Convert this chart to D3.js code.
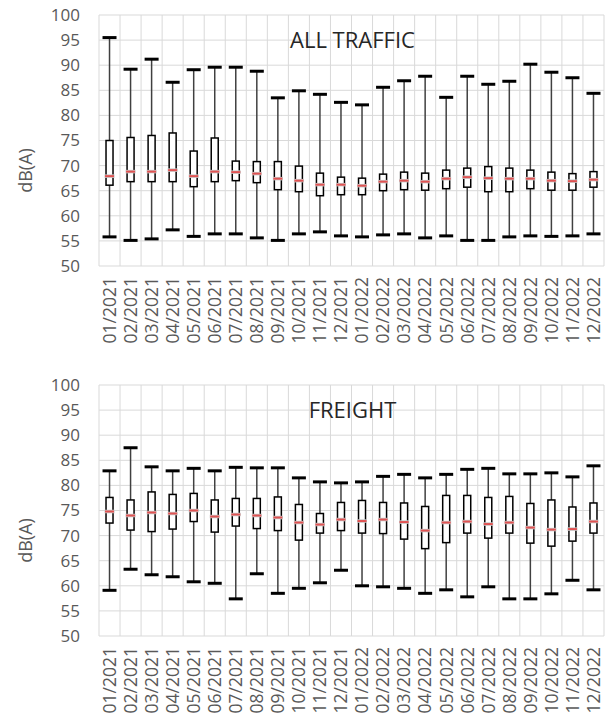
<!DOCTYPE html>
<html lang="en">
<head>
<meta charset="utf-8">
<title>Monthly noise levels</title>
<script src="https://cdn.jsdelivr.net/npm/d3@7"></script>
<style>
  body { margin: 0; background: #fff; }
  svg { display: block; font-family: "Open Sans", sans-serif; }
</style>
</head>
<body>
<script>
// month labels
var months = ["01/2021","02/2021","03/2021","04/2021","05/2021","06/2021","07/2021","08/2021","09/2021","10/2021","11/2021","12/2021",
              "01/2022","02/2022","03/2022","04/2022","05/2022","06/2022","07/2022","08/2022","09/2022","10/2022","11/2022","12/2022"];

var yTicks = [50, 55, 60, 65, 70, 75, 80, 85, 90, 95, 100];

// ALL TRAFFIC
var allMax = [95.5, 89.2, 91.2, 86.6, 89.1, 89.6, 89.6, 88.8, 83.5, 84.9, 84.2, 82.6, 82.1, 85.6, 86.9, 87.8, 83.6, 87.8, 86.2, 86.8, 90.2, 88.6, 87.5, 84.4];
var allQ3  = [75.0, 75.6, 76.0, 76.5, 72.9, 75.5, 70.9, 70.8, 70.8, 69.9, 68.5, 67.7, 67.5, 68.3, 68.7, 68.5, 69.1, 69.5, 69.8, 69.5, 69.1, 68.7, 68.4, 68.8];
var allMed = [67.9, 68.8, 68.8, 69.1, 67.9, 68.8, 68.7, 68.4, 67.4, 67.0, 66.2, 66.2, 66.0, 66.8, 67.0, 66.8, 67.4, 67.7, 67.5, 67.4, 67.4, 67.0, 66.9, 67.2];
var allQ1  = [66.1, 66.8, 66.8, 66.8, 65.8, 66.8, 67.0, 66.6, 65.2, 64.8, 64.0, 64.2, 64.2, 65.0, 65.2, 65.1, 65.4, 65.7, 64.8, 64.8, 65.4, 65.1, 65.1, 65.7];
var allMin = [55.8, 55.1, 55.4, 57.2, 55.9, 56.4, 56.4, 55.6, 55.1, 56.4, 56.8, 56.0, 55.8, 56.2, 56.4, 55.6, 56.0, 55.1, 55.1, 55.8, 56.0, 55.9, 56.0, 56.4];

// FREIGHT
var frMax = [82.9, 87.5, 83.7, 82.9, 83.4, 82.9, 83.6, 83.5, 83.5, 81.5, 80.7, 80.5, 80.7, 81.8, 82.2, 81.5, 82.2, 83.2, 83.4, 82.3, 82.3, 82.5, 81.7, 83.9];
var frQ3  = [77.6, 77.1, 78.7, 78.2, 78.4, 77.1, 77.4, 77.4, 77.7, 76.2, 74.4, 76.6, 77.0, 76.6, 76.5, 75.8, 78.0, 78.0, 77.6, 77.8, 76.4, 77.1, 75.7, 76.5];
var frMed = [74.8, 74.0, 74.6, 74.4, 75.0, 73.8, 74.2, 74.0, 73.6, 72.6, 72.2, 73.2, 72.9, 73.2, 72.7, 71.0, 72.6, 72.8, 72.3, 72.6, 71.6, 71.2, 71.3, 72.8];
var frQ1  = [72.5, 71.1, 70.8, 71.3, 72.8, 70.7, 71.9, 71.4, 71.0, 69.1, 70.5, 71.0, 70.5, 70.4, 69.3, 67.4, 68.6, 70.5, 69.5, 70.5, 68.5, 67.9, 68.9, 70.5];
var frMin = [59.1, 63.3, 62.2, 61.8, 60.8, 60.5, 57.4, 62.4, 58.5, 59.5, 60.6, 63.1, 60.0, 59.8, 59.5, 58.5, 59.2, 57.8, 59.8, 57.4, 57.4, 58.4, 61.1, 59.2];

var W = 610, H = 718;
var left = 99, right = 604;
var plotH = 251;

var svg = d3.select("body").append("svg")
    .attr("width", W)
    .attr("height", H);

var x = d3.scaleBand()
    .domain(months)
    .range([left, right])
    .padding(0);

function drawPanel(top, title, mins, q1s, meds, q3s, maxs) {
  var y = d3.scaleLinear()
      .domain([50, 100])
      .range([top + plotH, top]);

  var rows = months.map(function(m, i) {
    return {m: m, min: mins[i], q1: q1s[i], med: meds[i], q3: q3s[i], max: maxs[i]};
  });

  var g = svg.append("g");

  // horizontal grid
  g.append("g")
    .selectAll("line")
    .data(yTicks)
    .enter().append("line")
    .attr("x1", left).attr("x2", right)
    .attr("y1", function(d) { return y(d); })
    .attr("y2", function(d) { return y(d); })
    .attr("stroke", "#d9d9d9")
    .attr("stroke-width", 1);

  // vertical grid at band edges
  var edges = months.map(function(m) { return x(m); }).concat([right]);
  g.append("g")
    .selectAll("line")
    .data(edges)
    .enter().append("line")
    .attr("x1", function(d) { return d; })
    .attr("x2", function(d) { return d; })
    .attr("y1", top).attr("y2", top + plotH)
    .attr("stroke", "#d9d9d9")
    .attr("stroke-width", 1);

  // y axis labels
  var yAxis = d3.axisLeft(y).tickValues(yTicks).tickSize(0).tickPadding(0);
  var ya = g.append("g")
    .attr("transform", "translate(" + (left - 19) + ",0)")
    .call(yAxis);
  ya.select(".domain").remove();
  ya.selectAll("text")
    .attr("fill", "#595959")
    .style("font-size", "17px")
    .style("font-family", "Open Sans, sans-serif");

  // x axis labels
  var xAxis = d3.axisBottom(x).tickSize(0).tickPadding(0);
  var xa = g.append("g")
    .attr("transform", "translate(0," + (top + plotH) + ")")
    .call(xAxis);
  xa.select(".domain").remove();
  xa.selectAll("text")
    .attr("transform", "rotate(-90)")
    .attr("x", -11)
    .attr("y", 0)
    .attr("dy", "0.36em")
    .attr("text-anchor", "end")
    .attr("fill", "#595959")
    .style("font-size", "17.5px")
    .style("font-family", "Open Sans, sans-serif");

  // axis title
  g.append("text")
    .attr("transform", "translate(26," + (top + plotH / 2 + 30) + ") rotate(-90)")
    .attr("text-anchor", "middle")
    .attr("dy", "0.35em")
    .attr("fill", "#595959")
    .style("font-size", "18px")
    .text("dB(A)");

  // chart title
  g.append("text")
    .attr("x", (left + right) / 2 + 1)
    .attr("y", top + 33)
    .attr("text-anchor", "middle")
    .attr("fill", "#262626")
    .style("font-size", "22px")
    .text(title);

  var cx = function(d) { return x(d.m) + x.bandwidth() / 2; };
  var boxes = g.append("g").selectAll("g")
    .data(rows)
    .enter().append("g");

  boxes.append("line")
    .attr("x1", cx).attr("x2", cx)
    .attr("y1", function(d) { return y(d.max); })
    .attr("y2", function(d) { return y(d.min); })
    .attr("stroke", "#404040")
    .attr("stroke-width", 1.5);

  boxes.append("line")
    .attr("x1", function(d) { return cx(d) - 7; })
    .attr("x2", function(d) { return cx(d) + 7; })
    .attr("y1", function(d) { return y(d.max); })
    .attr("y2", function(d) { return y(d.max); })
    .attr("stroke", "#000")
    .attr("stroke-width", 3);

  boxes.append("line")
    .attr("x1", function(d) { return cx(d) - 7; })
    .attr("x2", function(d) { return cx(d) + 7; })
    .attr("y1", function(d) { return y(d.min); })
    .attr("y2", function(d) { return y(d.min); })
    .attr("stroke", "#000")
    .attr("stroke-width", 3);

  boxes.append("rect")
    .attr("x", function(d) { return cx(d) - 3.5; })
    .attr("width", 7)
    .attr("y", function(d) { return y(d.q3); })
    .attr("height", function(d) { return y(d.q1) - y(d.q3); })
    .attr("fill", "#fff")
    .attr("stroke", "#000")
    .attr("stroke-width", 1.5);

  boxes.append("line")
    .attr("x1", function(d) { return cx(d) - 5; })
    .attr("x2", function(d) { return cx(d) + 5; })
    .attr("y1", function(d) { return y(d.med); })
    .attr("y2", function(d) { return y(d.med); })
    .attr("stroke", "#c8c8c8")
    .attr("stroke-width", 3.5);

  boxes.append("line")
    .attr("x1", function(d) { return cx(d) - 4.5; })
    .attr("x2", function(d) { return cx(d) + 4.5; })
    .attr("y1", function(d) { return y(d.med); })
    .attr("y2", function(d) { return y(d.med); })
    .attr("stroke", "#e05252")
    .attr("stroke-width", 2);
}

drawPanel(15, "ALL TRAFFIC", allMin, allQ1, allMed, allQ3, allMax);
drawPanel(385, "FREIGHT", frMin, frQ1, frMed, frQ3, frMax);
</script>
</body>
</html>
